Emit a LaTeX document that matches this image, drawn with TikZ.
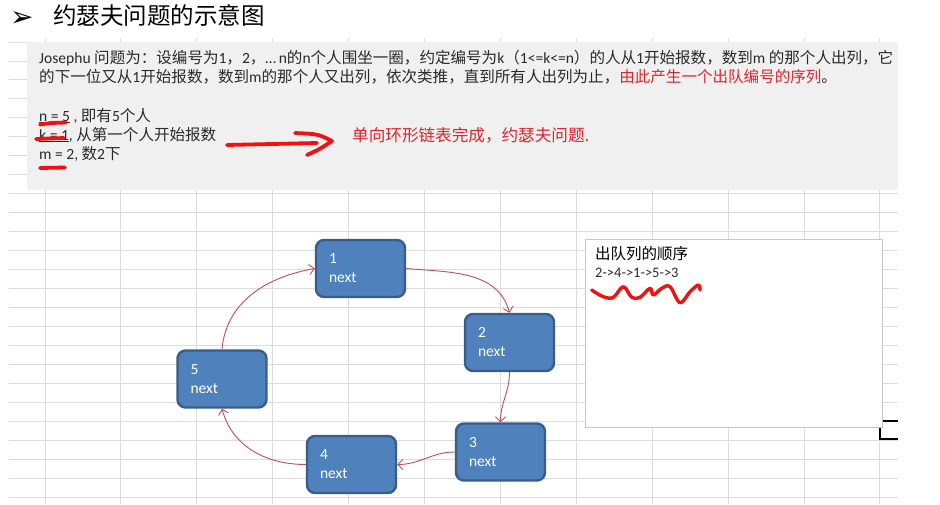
\documentclass[tikz,border=0pt]{standalone}
\usepackage{fontspec}
\setmainfont{Carlito}
\newfontfamily\cjk{Noto Sans CJK SC}
\newfontfamily\lat{Carlito}
\newfontfamily\dejavu{DejaVu Sans}
\usetikzlibrary{arrows.meta}
\definecolor{gridc}{HTML}{DCDCDC}
\definecolor{panel}{HTML}{F0F0F0}
\definecolor{nodefill}{HTML}{4F81BD}
\definecolor{nodeedge}{HTML}{385D8A}
\definecolor{linkc}{HTML}{C0504D}
\definecolor{redtxt}{HTML}{E0242C}
\definecolor{penred}{HTML}{F21010}
\definecolor{txt}{HTML}{2A2A2A}
\definecolor{boxedge}{HTML}{C8C8C8}
\begin{document}
\begin{tikzpicture}[x=1pt,y=-1pt,
  listnode/.style={draw=nodeedge, fill=nodefill, line width=2.4pt, rounded corners=8pt,
    minimum height=57pt, text width=63pt, inner xsep=13pt, inner ysep=0pt, align=left,
    text=white, font=\lat\fontsize{15.5}{19}\selectfont},
  link/.style={draw=linkc, line width=0.9pt, -{Straight Barb[length=5pt,width=10pt]}},
  pen/.style={draw=penred, line width=3.8pt, line cap=round, line join=round},
  txtline/.style={anchor=base west, inner sep=0pt, text=txt, font=\cjk\fontsize{15.55}{19}\selectfont},
]
\useasboundingbox (0,0) rectangle (940,504);
% spreadsheet grid
\foreach \i in {0,...,11} \draw[gridc, line width=0.9pt] ({45+75.9*\i},38) -- ({45+75.9*\i},504);
\foreach \j in {0,...,24} \draw[gridc, line width=0.9pt] (9,{42+18.96*\j}) -- (898,{42+18.96*\j});
% title
\node[anchor=base west, inner sep=0pt, font=\dejavu\fontsize{28}{30}\selectfont] (bullet) at (10,26) {➢};
\node[anchor=base west, inner sep=0pt, font=\cjk\fontsize{23.5}{28}\selectfont, text=black] (title) at (53,24) {约瑟夫问题的示意图};
% grey panel
\fill[panel] (27,42) rectangle (898,190);
\node[txtline] (l1) at (39,63) {{\lat Josephu }问题为：设编号为{\lat 1}，{\lat 2}，{\lat …\,n}的{\lat n}个人围坐一圈，约定编号为{\lat k}（{\lat 1<=k<=n}）的人从{\lat 1}开始报数，数到{\lat m }的那个人出列，它};
\node[txtline] (l2) at (39,82) {的下一位又从{\lat 1}开始报数，数到{\lat m}的那个人又出列，依次类推，直到所有人出列为止，\textcolor{redtxt}{由此产生一个出队编号的序列}。};
\node[txtline] (l3) at (39,121) {{\lat \underline{n = 5} , }即有{\lat 5}个人};
\node[txtline] (l4) at (39,140) {{\lat \underline{k = 1}, }从第一个人开始报数};
\node[txtline] (l5) at (39,159) {{\lat m = 2, }数{\lat 2}下};
\node[txtline, text=redtxt, font=\cjk\fontsize{16.6}{19}\selectfont] (note) at (352,141) {单向环形链表完成，约瑟夫问题.};
% hand-drawn red marks
\draw[pen] (40,124.5) .. controls (50,123) .. (66,122.5);
\draw[pen] (36,139) -- (64,138);
\draw[pen] (40,168) -- (65,167.5);
\draw[pen] (227,145) -- (317,143);
\draw[pen] (295,133) .. controls (318,134) .. (332,141) .. controls (320,149) .. (307,155);
% list nodes
\node[listnode] (n1) at (360.5,268.5) {1\\next};
\node[listnode] (n2) at (509.5,342.5) {2\\next};
\node[listnode] (n3) at (500.5,452) {3\\next};
\node[listnode] (n4) at (351.5,464.5) {4\\next};
\node[listnode] (n5) at (222,379) {5\\next};
\draw[link] (n1.east) to[out=-5,in=105] (n2.north);
\draw[link] (n2.south) to[out=-90,in=90] (n3.north);
\draw[link] (n3.west) to[out=180,in=0] (n4.east);
\draw[link] (n4.west) to[out=180,in=-75] (n5.south);
\draw[link] (n5.north) to[out=85,in=190] (n1.west);
% output order box
\node[draw=boxedge, fill=white, line width=1.2pt, minimum width=297pt, minimum height=188pt, inner sep=0pt, anchor=north west] (outbox) at (584.5,238.5) {};
\node[anchor=base west, inner sep=0pt, font=\cjk\fontsize{15.5}{19}\selectfont, text=black] (outtitle) at (595,259) {出队列的顺序};
\node[anchor=base west, inner sep=0pt, font=\lat\fontsize{14.5}{18}\selectfont, text=txt] (outseq) at (595,277) {2->4->1->5->3};
\draw[pen, line width=3.4pt] plot[smooth, tension=0.6] coordinates {(591.7,290) (603.3,296.7) (613.3,297.3) (623.3,286.7) (631.7,297.3) (640,297.3) (650,288.3) (653.3,295) (661.7,288.3) (670,286.7) (680,302.7) (690,291.7) (698.3,285) (700,290)};
% selection handle marks
\draw[line width=2.2pt] (883,421) -- (898,421);
\draw[line width=2.2pt] (880,428) -- (880,439) -- (898,439);
\end{tikzpicture}
\end{document}
